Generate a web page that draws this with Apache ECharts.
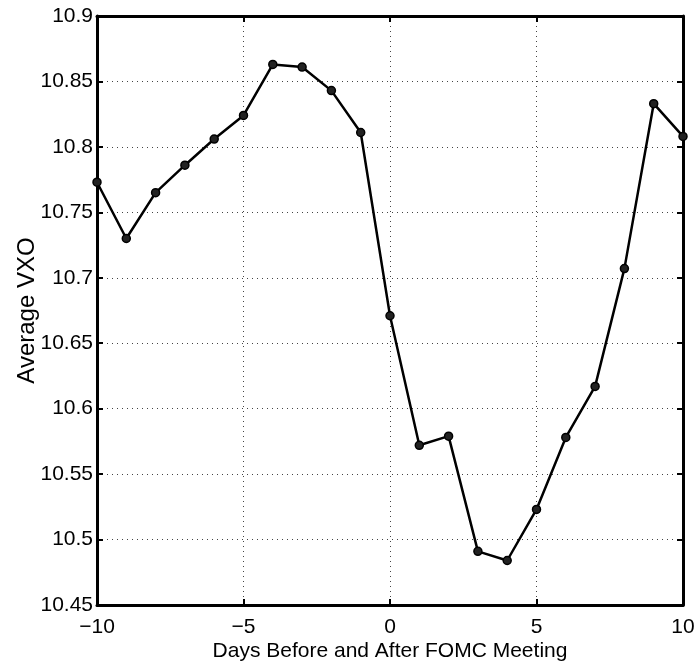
<!DOCTYPE html>
<html>
<head>
<meta charset="utf-8">
<script src="https://cdn.jsdelivr.net/npm/echarts@6/dist/echarts.min.js"></script>
<style>html,body{margin:0;padding:0;background:#fff;}#c{width:700px;height:666px;}</style>
</head>
<body>
<div id="c"></div>
<script>
var days = [-10,-9,-8,-7,-6,-5,-4,-3,-2,-1,0,1,2,3,4,5,6,7,8,9,10];
var vxo = [10.773,10.730,10.765,10.786,10.806,10.824,10.863,10.861,10.843,10.811,10.671,10.572,10.579,10.491,10.484,10.523,10.578,10.617,10.707,10.833,10.808];
var xTicks = {min:-10, max:10, interval:5};
var yTicks = {min:10.45, max:10.9, interval:0.05};
var xTitle = 'Days Before and After FOMC Meeting';
var yTitle = 'Average VXO';

var font = 'Liberation Sans, Arial, Helvetica, sans-serif';
var chart = echarts.init(document.getElementById('c'), null, {renderer:'canvas'});
var axisLine = {show:true, onZero:false, lineStyle:{color:'#000', width:3}};
var tick = {show:true, inside:true, length:6, lineStyle:{color:'#000', width:2}};
var grid = {show:true, lineStyle:{color:'#444', width:1, type:[1,4]}};
var data = days.map(function(d,i){return [d, vxo[i]];});
chart.setOption({
  animation:false,
  backgroundColor:'#fff',
  grid:{left:97, right:17, top:16, bottom:61, containLabel:false, outerBoundsMode:'none'},
  xAxis:[{
    type:'value', min:xTicks.min, max:xTicks.max, interval:xTicks.interval,
    position:'bottom',
    axisLine:axisLine, axisTick:tick, splitLine:grid,
    axisLabel:{color:'#000', fontFamily:font, fontSize:21, margin:12,
      formatter:function(v){return String(v).replace('-','\u2212');}},
    name:xTitle, nameLocation:'middle', nameGap:36, nameMoveOverlap:false,
    nameTextStyle:{color:'#000', fontFamily:font, fontSize:21}
  },{
    type:'value', min:xTicks.min, max:xTicks.max, interval:xTicks.interval,
    position:'top',
    axisLine:axisLine, axisTick:tick, splitLine:{show:false}, axisLabel:{show:false}
  }],
  yAxis:[{
    type:'value', min:yTicks.min, max:yTicks.max, interval:yTicks.interval,
    position:'left',
    axisLine:axisLine, axisTick:tick, splitLine:grid,
    axisLabel:{color:'#000', fontFamily:font, fontSize:21, margin:4,
      formatter:function(v){return String(parseFloat(v.toFixed(2)));}},
    name:yTitle, nameLocation:'middle', nameGap:58, nameMoveOverlap:false,
    nameTextStyle:{color:'#000', fontFamily:font, fontSize:24}
  },{
    type:'value', min:yTicks.min, max:yTicks.max, interval:yTicks.interval,
    position:'right',
    axisLine:axisLine, axisTick:tick, splitLine:{show:false}, axisLabel:{show:false}
  }],
  series:[{
    type:'line', data:data, xAxisIndex:0, yAxisIndex:0,
    symbol:'circle', symbolSize:8,
    lineStyle:{color:'#000', width:2.5},
    itemStyle:{color:'#222', borderColor:'#000', borderWidth:1.5},
    z:5
  }]
});
</script>
</body>
</html>
